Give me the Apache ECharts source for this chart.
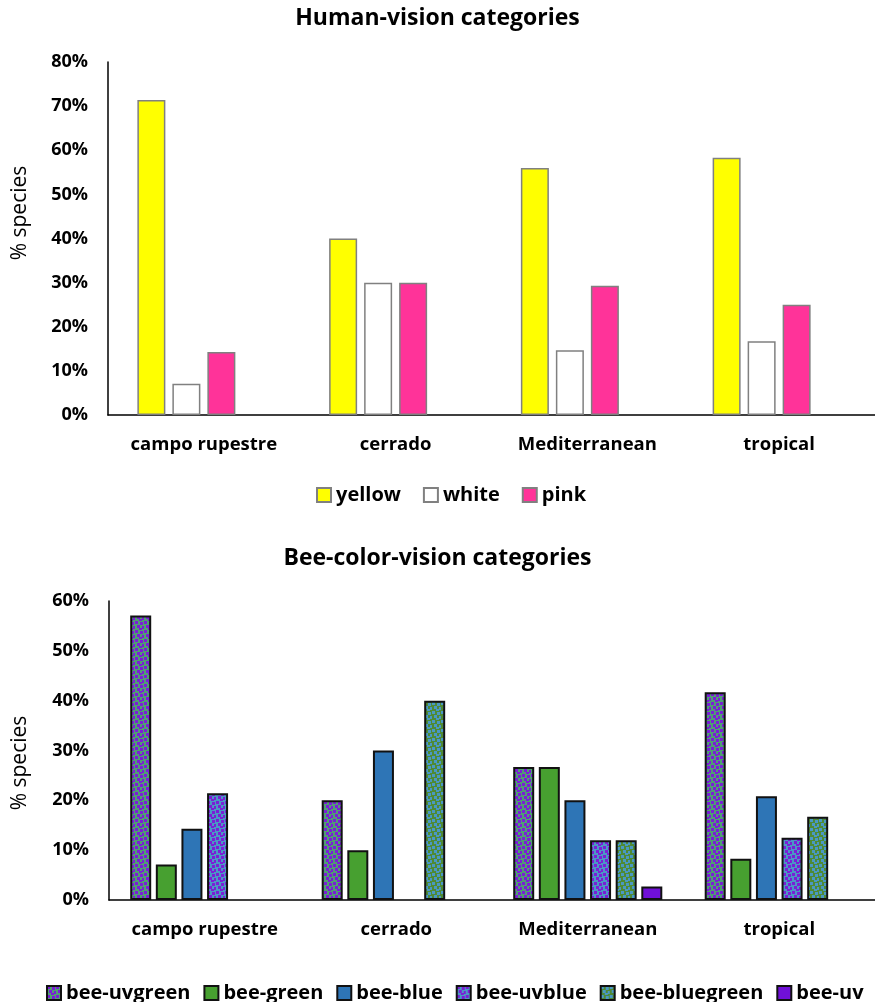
<!DOCTYPE html>
<html>
<head>
<meta charset="utf-8">
<script src="https://cdn.jsdelivr.net/npm/echarts@6/dist/echarts.min.js"></script>
<style>
  html, body { margin: 0; padding: 0; background: #fff; }
  #chart { width: 875px; height: 1002px; }
</style>
</head>
<body>
<div id="chart"></div>
<script>
// Habitat categories shared by both panels
const habitats = ['campo rupestre', 'cerrado', 'Mediterranean', 'tropical'];

// Human-vision flower colours (% species)
const humanSeries = ['yellow', 'white', 'pink'];
const yellowPct = [71.4, 40, 56.0, 58.3];
const whitePct  = [7.1, 30, 14.7, 16.7];
const pinkPct   = [14.3, 30, 29.3, 25.0];

// Bee-colour-vision categories (% species)
const beeSeries = ['bee-uvgreen', 'bee-green', 'bee-blue', 'bee-uvblue', 'bee-bluegreen', 'bee-uv'];
const beeUvgreenPct   = [57.1, 20, 26.7, 41.7];
const beeGreenPct     = [7.1, 10, 26.7, 8.3];
const beeBluePct      = [14.3, 30, 20.0, 20.8];
const beeUvbluePct    = [21.4, null, 12.0, 12.5];
const beeBluegreenPct = [null, 40, 12.0, 16.7];
const beeUvPct        = [null, null, 2.7, null];

// Axis tick settings
const humanTicks = { min: 0, max: 80, interval: 10 };
const beeTicks   = { min: 0, max: 60, interval: 10 };

// Confetti-style fill tile: small squares over a base colour
function confetti(base, dot) {
  const c = document.createElement('canvas');
  c.width = 9; c.height = 9;
  const g = c.getContext('2d');
  g.fillStyle = base; g.fillRect(0, 0, 9, 9);
  g.fillStyle = dot;
  [[0, 0], [5, 1], [2, 4], [7, 5], [4, 7]].forEach(([x, y]) => g.fillRect(x, y, 3, 3));
  return { image: c, repeat: 'repeat' };
}

const FONT = '"Open Sans", "Noto Sans", sans-serif';
const txt = { fontFamily: FONT, fontWeight: 'bold', fontSize: 18, color: '#000' };
const legendText = Object.assign({}, txt, { fontSize: 20 });

const chart = echarts.init(document.getElementById('chart'), null, { renderer: 'canvas' });

function valueAxis(gridIndex, ticks) {
  return {
    type: 'value', gridIndex, min: ticks.min, max: ticks.max, interval: ticks.interval,
    axisLine: { show: true, lineStyle: { color: '#000', width: 1.5 } },
    axisTick: { show: false }, splitLine: { show: false },
    axisLabel: Object.assign({ formatter: '{value}%', margin: 20 }, txt)
  };
}
function catAxis(gridIndex) {
  return {
    type: 'category', gridIndex, data: habitats,
    axisLine: { lineStyle: { color: '#000', width: 1.5 } },
    axisTick: { show: false },
    axisLabel: Object.assign({ margin: 20, interval: 0 }, txt, { fontSize: 18.5 })
  };
}
// Rotated y-axis title
function yTitle(x, y) {
  return {
    type: 'text', x, y, rotation: Math.PI / 2,
    style: { text: '% species', fontFamily: FONT, fontSize: 21, fill: '#000',
             align: 'center', verticalAlign: 'middle' }
  };
}

const humanBar = (name, data, color) => ({
  name, type: 'bar', xAxisIndex: 0, yAxisIndex: 0, data,
  barWidth: 28, barGap: '25%',
  itemStyle: { color, borderColor: '#808080', borderWidth: 1.5 }
});
const beeBar = (name, data, color) => ({
  name, type: 'bar', xAxisIndex: 1, yAxisIndex: 1, data,
  barWidth: 21, barGap: '22%',
  itemStyle: { color, borderColor: '#111', borderWidth: 2 }
});

const uvgreenFill   = confetti('#4f9f72', '#7a1fd6');
const uvblueFill    = confetti('#4a98c4', '#7a1fd6');
const bluegreenFill = confetti('#4f8a35', '#4a98c4');

chart.setOption({
  animation: false,
  backgroundColor: '#fff',
  title: [
    { text: 'Human-vision categories', left: 'center', top: 2,
      textStyle: { fontFamily: FONT, fontWeight: 'bold', fontSize: 23, color: '#000' } },
    { text: 'Bee-color-vision categories', left: 'center', top: 542,
      textStyle: { fontFamily: FONT, fontWeight: 'bold', fontSize: 23, color: '#000' } }
  ],
  legend: [
    { data: humanSeries, left: 311, top: 480, itemWidth: 14, itemHeight: 14, itemGap: 22,
      icon: 'rect', textStyle: legendText },
    // single row that runs past the right edge
    { data: beeSeries, left: 41, top: 978, width: 1100, itemWidth: 14, itemHeight: 14, itemGap: 13,
      icon: 'rect', textStyle: legendText }
  ],
  graphic: [yTitle(20, 213), yTitle(20, 763)],
  grid: [
    { left: 108, top: 62, width: 769, height: 353 },
    { left: 109, top: 601, width: 769, height: 299 }
  ],
  xAxis: [catAxis(0), catAxis(1)],
  yAxis: [valueAxis(0, humanTicks), valueAxis(1, beeTicks)],
  series: [
    humanBar('yellow', yellowPct, '#ffff00'),
    humanBar('white', whitePct, '#ffffff'),
    humanBar('pink', pinkPct, '#ff3399'),
    // empty fourth slot keeps each trio left of the category centre
    humanBar('', habitats.map(() => null), 'transparent'),
    beeBar('bee-uvgreen', beeUvgreenPct, uvgreenFill),
    beeBar('bee-green', beeGreenPct, '#47a030'),
    beeBar('bee-blue', beeBluePct, '#2e75b6'),
    beeBar('bee-uvblue', beeUvbluePct, uvblueFill),
    beeBar('bee-bluegreen', beeBluegreenPct, bluegreenFill),
    beeBar('bee-uv', beeUvPct, '#7010d8')
  ]
});
</script>
</body>
</html>
